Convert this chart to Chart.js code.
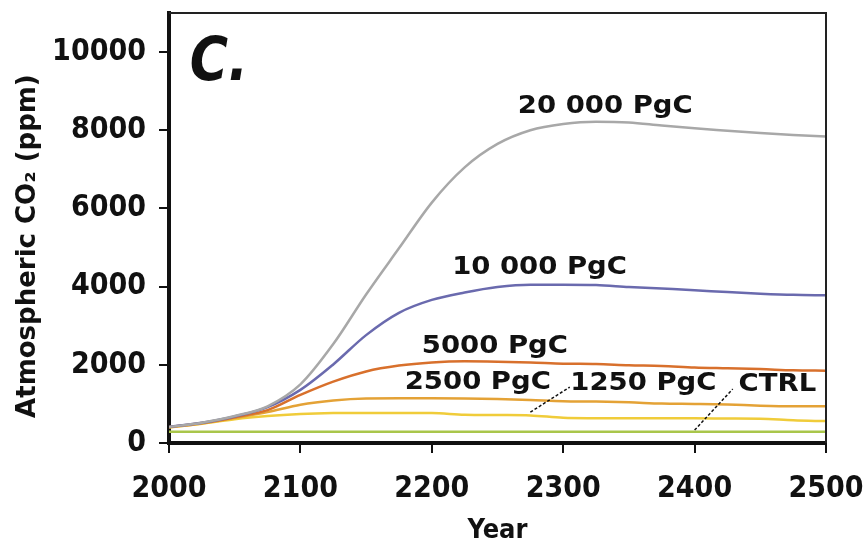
<!DOCTYPE html>
<html>
<head>
<meta charset="utf-8">
<script src="https://cdn.jsdelivr.net/npm/chart.js@4.4.1/dist/chart.umd.min.js"></script>
<style>
  html, body { margin: 0; padding: 0; background: #fff; }
  #wrap { width: 868px; height: 544px; }
</style>
</head>
<body>
<div id="wrap"><canvas id="myChart" width="868" height="544"></canvas></div>
<script>
// Dữ liệu (ppm theo năm)
const years = [2000, 2025, 2050, 2075, 2100, 2125, 2150, 2175, 2200, 2225, 2250,
  2275, 2300, 2325, 2350, 2375, 2400, 2425, 2450, 2475, 2500];

const co2_20000 = [410, 520, 690, 940, 1500, 2530, 3800, 4980, 6150, 7050, 7650,
  8000, 8160, 8220, 8200, 8120, 8050, 7990, 7930, 7880, 7840];
const co2_10000 = [410, 520, 680, 920, 1360, 2010, 2760, 3330, 3660, 3850, 3990,
  4050, 4050, 4040, 3990, 3950, 3910, 3860, 3820, 3790, 3780];
const co2_5000 = [410, 510, 660, 840, 1230, 1570, 1830, 1980, 2060, 2090, 2080,
  2060, 2030, 2020, 1990, 1970, 1930, 1910, 1890, 1860, 1850];
const co2_2500 = [400, 500, 640, 790, 980, 1090, 1140, 1145, 1145, 1140, 1125,
  1100, 1070, 1060, 1040, 1010, 1000, 985, 955, 940, 940];
const co2_1250 = [400, 490, 610, 690, 740, 765, 770, 770, 765, 725, 715,
  705, 645, 635, 630, 630, 630, 625, 620, 580, 560];
const co2_ctrl = [290, 290, 290, 290, 290, 290, 290, 290, 290, 290, 290,
  290, 290, 290, 290, 290, 290, 290, 290, 290, 290];

const yTicks = [0, 2000, 4000, 6000, 8000, 10000];
const xTicks = [2000, 2100, 2200, 2300, 2400, 2500];

// Nhãn đường (toạ độ theo năm / ppm)
const labelTexts = ["20 000 PgC", "10 000 PgC", "5000 PgC", "2500 PgC", "1250 PgC", "CTRL"];
const labelYears = [2332, 2282, 2248, 2235, 2361, 2463];
const labelValues = [8600, 4480, 2460, 1560, 1510, 1485];

// Đường dẫn nét đứt: [năm1, ppm1, năm2, ppm2]
const leaderLines = [
  [2275, 790, 2305, 1430],
  [2400, 330, 2429, 1380]
];

const FONT = "'DejaVu Sans Condensed', 'DejaVu Sans', sans-serif";

function toPoints(arr) {
  return years.map((yr, i) => ({ x: yr, y: arr[i] }));
}

function makeSet(label, arr, color) {
  return {
    label: label,
    data: toPoints(arr),
    borderColor: color,
    backgroundColor: color,
    borderWidth: 2.5,
    pointRadius: 0,
    cubicInterpolationMode: "monotone",
    fill: false,
  };
}

const annotatePlugin = {
  id: "annotate",
  afterDraw(chart) {
    const { ctx, chartArea, scales } = chart;
    const xs = scales.x, ys = scales.y;

    // khung trên + phải
    ctx.save();
    ctx.strokeStyle = "#222";
    ctx.lineWidth = 2;
    ctx.beginPath();
    ctx.moveTo(chartArea.left, chartArea.top);
    ctx.lineTo(chartArea.right, chartArea.top);
    ctx.lineTo(chartArea.right, chartArea.bottom);
    ctx.stroke();

    // nét đứt
    ctx.setLineDash([3, 2]);
    ctx.lineWidth = 1.5;
    ctx.strokeStyle = "#111";
    leaderLines.forEach((l) => {
      ctx.beginPath();
      ctx.moveTo(xs.getPixelForValue(l[0]), ys.getPixelForValue(l[1]));
      ctx.lineTo(xs.getPixelForValue(l[2]), ys.getPixelForValue(l[3]));
      ctx.stroke();
    });
    ctx.setLineDash([]);

    // nhãn
    ctx.fillStyle = "#111";
    ctx.textAlign = "center";
    ctx.textBaseline = "middle";
    ctx.font = "bold 25px 'DejaVu Sans', sans-serif";
    labelTexts.forEach((t, i) => {
      ctx.save();
      ctx.translate(xs.getPixelForValue(labelYears[i]), ys.getPixelForValue(labelValues[i]));
      ctx.scale(1.1, 1);
      ctx.fillText(t, 0, 0);
      ctx.restore();
    });

    // chữ "C."
    ctx.save();
    ctx.translate(xs.getPixelForValue(2038), ys.getPixelForValue(9690));
    ctx.scale(0.9, 1.05);
    ctx.font = "italic bold 58px 'DejaVu Sans', sans-serif";
    ctx.fillText("C.", 0, 0);
    ctx.restore();

    ctx.restore();
  },
};

function noPad(scale) {
  scale.paddingTop = 0;
  scale.paddingBottom = 0;
  scale.paddingLeft = 0;
  scale.paddingRight = 0;
}

const ctx = document.getElementById("myChart").getContext("2d");
const myChart = new Chart(ctx, {
  type: "line",
  data: {
    datasets: [
      makeSet("20 000 PgC", co2_20000, "#a8a8a8"),
      makeSet("10 000 PgC", co2_10000, "#6a6aae"),
      makeSet("5000 PgC", co2_5000, "#d8702c"),
      makeSet("2500 PgC", co2_2500, "#e4a236"),
      makeSet("1250 PgC", co2_1250, "#f0cc3a"),
      makeSet("CTRL", co2_ctrl, "#a9c64a"),
    ],
  },
  options: {
    responsive: false,
    animation: false,
    layout: { padding: { top: 13, right: 42, left: 0, bottom: 0 } },
    plugins: {
      legend: { display: false },
      tooltip: { enabled: false },
    },
    scales: {
      x: {
        type: "linear",
        min: 2000,
        max: 2500,
        afterBuildTicks: (axis) => { axis.ticks = xTicks.map((v) => ({ value: v })); },
        afterFit: (scale) => { scale.height = 101; noPad(scale); },
        border: { display: true, width: 4, color: "#111" },
        grid: { drawOnChartArea: false, drawTicks: true, tickLength: 10, lineWidth: 2, color: "#111" },
        ticks: {
          color: "#111",
          padding: 18,
          maxRotation: 0,
          callback: (v) => String(v),
          font: { family: FONT, size: 30, weight: "bold" },
        },
        title: {
          display: true,
          text: "Year",
          color: "#111",
          padding: { top: 0, bottom: 0 },
          font: { family: FONT, size: 27, weight: "bold", lineHeight: 1 },
        },
      },
      y: {
        min: 0,
        max: 11000,
        afterBuildTicks: (axis) => { axis.ticks = yTicks.map((v) => ({ value: v })); },
        afterFit: (scale) => { scale.width = 169; noPad(scale); },
        border: { display: true, width: 4, color: "#111" },
        grid: { drawOnChartArea: false, drawTicks: true, tickLength: 10, lineWidth: 2, color: "#111" },
        ticks: {
          color: "#111",
          padding: 13,
          callback: (v) => String(v),
          font: { family: FONT, size: 30, weight: "bold" },
        },
        title: {
          display: true,
          text: "Atmospheric CO\u2082 (ppm)\u00a0\u00a0\u00a0\u00a0",
          color: "#111",
          padding: { top: 13, bottom: 0 },
          font: { family: "'DejaVu Sans', sans-serif", size: 26, weight: "bold", lineHeight: 1.2 },
        },
      },
    },
  },
  plugins: [annotatePlugin],
});
</script>
</body>
</html>
